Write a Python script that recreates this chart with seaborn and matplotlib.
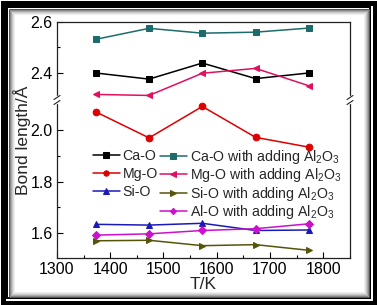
import numpy as np
import pandas as pd
import matplotlib
matplotlib.use('Agg')
import matplotlib.pyplot as plt
import seaborn as sns
from matplotlib.patches import Rectangle
from matplotlib.lines import Line2D
from matplotlib.ticker import FixedLocator, MultipleLocator

temps = [1373, 1473, 1573, 1673, 1773]

ca_o = [2.400, 2.376, 2.439, 2.378, 2.400]
ca_o_al = [2.532, 2.575, 2.556, 2.560, 2.576]
mg_o = [2.071, 1.970, 2.092, 1.972, 1.934]
mg_o_al = [2.316, 2.312, 2.399, 2.418, 2.350]
si_o = [1.634, 1.631, 1.638, 1.610, 1.612]
si_o_al = [1.570, 1.572, 1.551, 1.555, 1.533]
al_o_al = [1.592, 1.597, 1.610, 1.617, 1.636]

top_series = [
    ('Ca-O', ca_o, 'black', 's'),
    ('Ca-O with adding Al$_2$O$_3$', ca_o_al, '#1d6b6b', 's'),
    ('Mg-O with adding Al$_2$O$_3$', mg_o_al, '#e0105e', '<'),
]
bottom_series = [
    ('Mg-O', mg_o, '#dd0000', 'o'),
    ('Si-O', si_o, '#1a1ab8', '^'),
    ('Si-O with adding Al$_2$O$_3$', si_o_al, '#55550a', '>'),
    ('Al-O with adding Al$_2$O$_3$', al_o_al, '#cc10cc', 'D'),
]

sns.set_theme(style='ticks')
plt.rcParams['font.family'] = ['Liberation Sans', 'DejaVu Sans']
plt.rcParams['mathtext.fontset'] = 'custom'
plt.rcParams['mathtext.rm'] = 'Liberation Sans'
plt.rcParams['mathtext.it'] = 'Liberation Sans'

fig = plt.figure(figsize=(3.77, 3.05), dpi=100)
ax_top = fig.add_axes([0.151, 0.672, 0.777, 0.256])
ax_bot = fig.add_axes([0.151, 0.154, 0.777, 0.518])

lines = {}
for ax, series in [(ax_top, top_series), (ax_bot, bottom_series)]:
    for name, vals, col, mk in series:
        df = pd.DataFrame({'T': temps, 'L': vals})
        ms = 4.0 if mk == 'D' else 4.8
        sns.lineplot(data=df, x='T', y='L', ax=ax, color=col, marker=mk,
                     markersize=ms, markeredgecolor=col, linewidth=1.1, legend=False)
        lines[name] = ax.lines[-1]

for ax in (ax_top, ax_bot):
    ax.set_xlim(1300, 1850)
    ax.xaxis.set_major_locator(MultipleLocator(100))
    ax.xaxis.set_minor_locator(MultipleLocator(50))
    ax.yaxis.set_major_locator(MultipleLocator(0.2))
    ax.tick_params(which='both', direction='in', right=False, top=False,
                   labelsize=11.5, colors='black', pad=3)
    ax.tick_params(which='major', length=4, width=0.8)
    ax.tick_params(which='minor', length=2.5, width=0.8)
    ax.set_xlabel('')
    ax.set_ylabel('')
    for s in ax.spines.values():
        s.set_linewidth(0.9)
        s.set_color('#222222')

ax_top.set_ylim(2.294, 2.6)
ax_top.yaxis.set_minor_locator(FixedLocator([2.5]))
ax_top.spines['bottom'].set_visible(False)
ax_top.tick_params(axis='x', which='both', bottom=False, labelbottom=False)

ax_bot.set_ylim(1.503, 2.117)
ax_bot.yaxis.set_minor_locator(FixedLocator([1.7, 1.9]))
ax_bot.spines['top'].set_visible(False)
ax_bot.set_xlabel('T/K', fontsize=12.5, labelpad=0)

fig.text(0.058, 0.54, 'Bond length/\u00c5', rotation=90, fontsize=12.5,
         ha='center', va='center')

# break marks
W, H = 377.0, 305.0
yb = 1 - 100 / H
for xs in (57 / W, 350 / W):
    fig.add_artist(Line2D([xs, xs], [yb - 2.5 / H, yb + 2.5 / H], color='white',
                          lw=2.5, transform=fig.transFigure))
    for dy in (-2.5, 2.5):
        fig.add_artist(Line2D([xs - 3 / W, xs + 3 / W],
                              [yb + (dy - 2) / H, yb + (dy + 2) / H],
                              color='#222222', lw=0.8, transform=fig.transFigure))

# legend, two columns drawn as two legends so rows line up
col1 = ['Ca-O', 'Mg-O', 'Si-O']
col2 = ['Ca-O with adding Al$_2$O$_3$', 'Mg-O with adding Al$_2$O$_3$',
        'Si-O with adding Al$_2$O$_3$', 'Al-O with adding Al$_2$O$_3$']
leg_kw = dict(frameon=False, fontsize=10.2, loc='upper left', handlelength=1.9,
              handletextpad=0.2, borderpad=0.0, borderaxespad=0.0, markerscale=0.8)
leg1 = ax_bot.legend([lines[n] for n in col1], col1, bbox_to_anchor=(0.123, 0.692),
                     labelspacing=0.28, **leg_kw)
ax_bot.add_artist(leg1)
ax_bot.legend([lines[n] for n in col2], col2, bbox_to_anchor=(0.352, 0.699),
              labelspacing=0.04, **leg_kw)

# picture frame
def frame(inset, lw_px, color):
    fig.add_artist(Rectangle((inset / W, inset / H), 1 - 2 * inset / W, 1 - 2 * inset / H,
                             transform=fig.transFigure, fill=False,
                             edgecolor=color, linewidth=lw_px * 0.72))

frame(2.5, 5, 'black')
frame(5.5, 1, 'white')
frame(7, 2, 'black')
for i, g in enumerate(['#555555', '#888888', '#aaaaaa', '#c8c8c8', '#dedede', '#eeeeee']):
    frame(8.5 + i, 1, g)

fig.savefig('out.png', dpi=100)
